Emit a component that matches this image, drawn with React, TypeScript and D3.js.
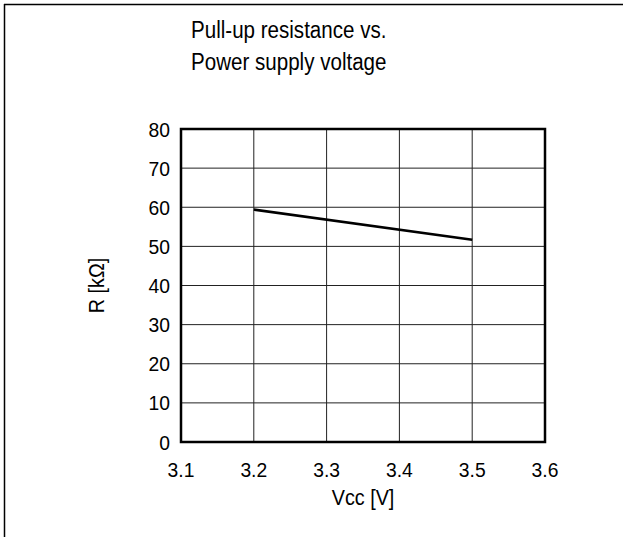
import React from "react";
import * as d3 from "d3";

const titleLines = ["Pull-up resistance vs.", "Power supply voltage"];
const xTicks = [3.1, 3.2, 3.3, 3.4, 3.5, 3.6];
const yTicks = [0, 10, 20, 30, 40, 50, 60, 70, 80];
const vcc = [3.2, 3.5];
const resistance = [59.4, 51.7];
const xLabel = "Vcc [V]";
const yLabel = "R [kΩ]";

const W = 623;
const H = 537;
const M = { left: 181, right: 545, top: 129, bottom: 442 };

function T(props: {
  x: number;
  y: number;
  sx: number;
  size: number;
  anchor?: string;
  rotate?: number;
  dy?: string;
  children: React.ReactNode;
}) {
  const { x, y, sx, size, anchor, rotate, dy, children } = props;
  return (
    <text
      transform={`translate(${x},${y})${rotate ? ` rotate(${rotate})` : ""} scale(${sx},1)`}
      fontSize={size}
      textAnchor={anchor || "start"}
      dy={dy}
      fill="#000"
    >
      {children}
    </text>
  );
}

export default function App() {
  const x = d3.scaleLinear().domain([3.1, 3.6]).range([M.left, M.right]);
  const y = d3.scaleLinear().domain([0, 80]).range([M.bottom, M.top]);
  const pts = vcc.map((v, i) => [v, resistance[i]] as [number, number]);
  const line = d3
    .line<[number, number]>()
    .x((d) => x(d[0]))
    .y((d) => y(d[1]));
  const font = "'Liberation Sans', Arial, sans-serif";
  return (
    <svg
      width={W}
      height={H}
      style={{ position: "absolute", left: 0, top: 0, background: "#fff" }}
      fontFamily={font}
    >
      <rect x={0} y={0} width={W} height={H} fill="#fff" />
      <line x1={4} x2={W} y1={4.5} y2={4.5} stroke="#000" strokeWidth={1.5} />
      <line x1={4.5} x2={4.5} y1={4} y2={H} stroke="#000" strokeWidth={1.5} />
      {titleLines.map((t, i) => (
        <T key={t} x={191} y={38 + i * 32} sx={0.84} size={24.5}>
          {t}
        </T>
      ))}
      {xTicks.map((t) => (
        <line
          key={"gx" + t}
          x1={x(t)}
          x2={x(t)}
          y1={M.top}
          y2={M.bottom}
          stroke="#222"
          strokeWidth={1}
        />
      ))}
      {yTicks.map((t) => (
        <line
          key={"gy" + t}
          x1={M.left}
          x2={M.right}
          y1={y(t)}
          y2={y(t)}
          stroke="#222"
          strokeWidth={1}
        />
      ))}
      <rect
        x={M.left}
        y={M.top}
        width={M.right - M.left}
        height={M.bottom - M.top}
        fill="none"
        stroke="#000"
        strokeWidth={2.5}
      />
      <path d={line(pts) || ""} fill="none" stroke="#000" strokeWidth={2.5} />
      {yTicks.map((t) => (
        <T
          key={"ty" + t}
          x={M.left - 11}
          y={y(t)}
          dy="0.36em"
          anchor="end"
          sx={0.92}
          size={21}
        >
          {t}
        </T>
      ))}
      {xTicks.map((t) => (
        <T key={"tx" + t} x={x(t)} y={477} anchor="middle" sx={0.92} size={21}>
          {t.toFixed(1)}
        </T>
      ))}
      <T x={(M.left + M.right) / 2} y={505} anchor="middle" sx={0.92} size={21.5}>
        {xLabel}
      </T>
      <T
        x={104}
        y={(M.top + M.bottom) / 2}
        rotate={-90}
        anchor="middle"
        sx={0.92}
        size={21.5}
      >
        {yLabel}
      </T>
    </svg>
  );
}
